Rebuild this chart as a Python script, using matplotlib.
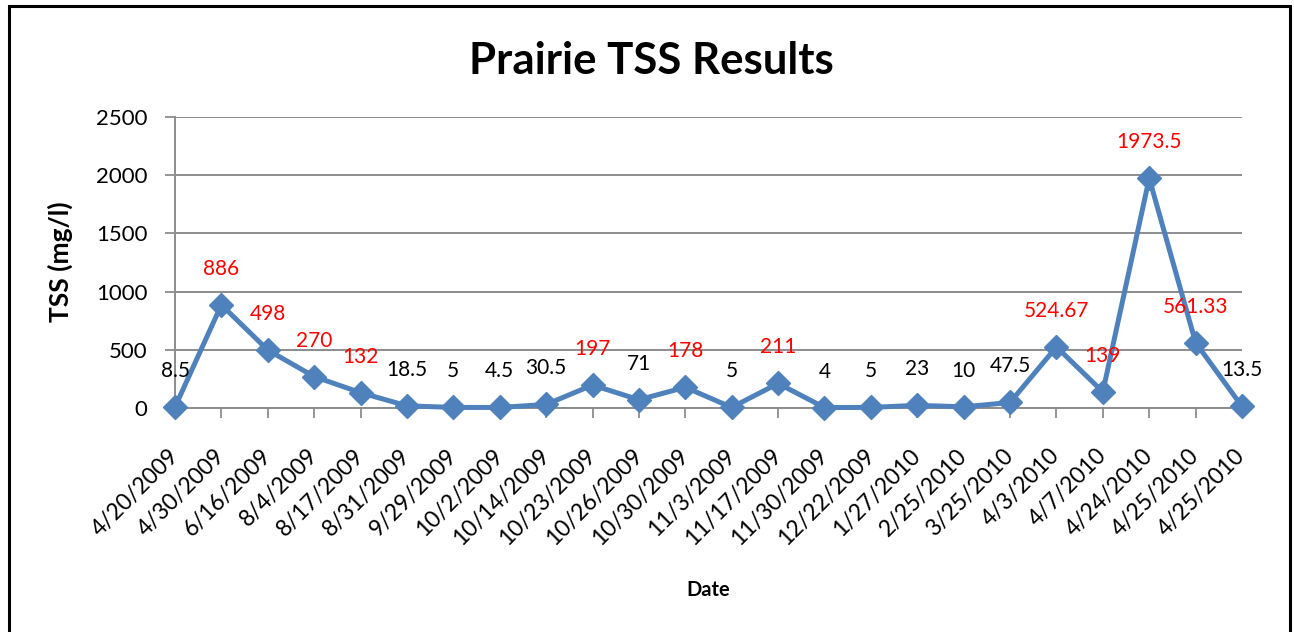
import matplotlib
matplotlib.use('Agg')
import matplotlib.pyplot as plt
import matplotlib.patches as mpatches

plt.rcParams['font.family'] = ['Lato', 'DejaVu Sans']

# ── data ──
dates = ['4/20/2009', '4/30/2009', '6/16/2009', '8/4/2009', '8/17/2009',
         '8/31/2009', '9/29/2009', '10/2/2009', '10/14/2009', '10/23/2009',
         '10/26/2009', '10/30/2009', '11/3/2009', '11/17/2009', '11/30/2009',
         '12/22/2009', '1/27/2010', '2/25/2010', '3/25/2010', '4/3/2010',
         '4/7/2010', '4/24/2010', '4/25/2010', '4/25/2010']
tss = [8.5, 886, 498, 270, 132, 18.5, 5, 4.5, 30.5, 197, 71, 178, 5, 211,
       4, 5, 23, 10, 47.5, 524.67, 139, 1973.5, 561.33, 13.5]
labels = ['8.5', '886', '498', '270', '132', '18.5', '5', '4.5', '30.5', '197',
          '71', '178', '5', '211', '4', '5', '23', '10', '47.5', '524.67',
          '139', '1973.5', '561.33', '13.5']
y_ticks = [0, 500, 1000, 1500, 2000, 2500]
THRESH = 100

LINE = '#4F81BD'
GRID = '#8C8C8C'

W, H = 1294, 632
fig = plt.figure(figsize=(W / 100, H / 100), dpi=100)
fig.patch.set_facecolor('white')

# chart border
fig.add_artist(mpatches.Rectangle((9 / W, -0.02), (1290 - 9) / W, 1.02 - 6 / H,
                                  transform=fig.transFigure, fill=False,
                                  edgecolor='black', lw=2.2))

ax = fig.add_axes([175 / W, (H - 408) / H, (1242 - 175) / W, (408 - 117) / H])
x = list(range(len(dates)))
ax.plot(x, tss, color=LINE, lw=3.6, marker='D', markersize=12,
        markerfacecolor=LINE, markeredgecolor=LINE, clip_on=False, zorder=3)

for xi, yi, lab in zip(x, tss, labels):
    col = 'red' if yi > THRESH else 'black'
    ax.annotate(lab, (xi, yi), xytext=(0, 36), textcoords='offset pixels',
                ha='center', va='center', fontsize=15, color=col, zorder=4)

ax.set_xlim(0, len(dates) - 1)
ax.set_ylim(0, 2500)
ax.set_yticks(y_ticks)
ax.set_yticklabels([str(v) for v in y_ticks], fontsize=16)
ax.set_xticks(x)
ax.set_xticklabels(dates, rotation=45, ha='right', va='center',
                   rotation_mode='anchor', fontsize=16.5)
ax.tick_params(axis='both', color=GRID, width=1.3, length=7, direction='out')
ax.tick_params(axis='y', pad=13)
ax.tick_params(axis='x', pad=25)
ax.grid(axis='y', color=GRID, lw=1.4)
ax.set_axisbelow(True)
for s in ['top', 'right']:
    ax.spines[s].set_visible(False)
for s in ['left', 'bottom']:
    ax.spines[s].set_color(GRID)
    ax.spines[s].set_linewidth(1.4)

fig.text(60 / W, 1 - 262 / H, 'TSS (mg/l)', ha='center', va='center',
         rotation=90, fontsize=19, fontweight='bold')
fig.text(708 / W, 1 - 590 / H, 'Date', ha='center', va='center',
         fontsize=14.5, fontweight='bold')
fig.text(651 / W, 1 - 61 / H, 'Prairie TSS Results', ha='center', va='center',
         fontsize=31.5, fontweight='bold')

fig.savefig('out.png', dpi=100)
